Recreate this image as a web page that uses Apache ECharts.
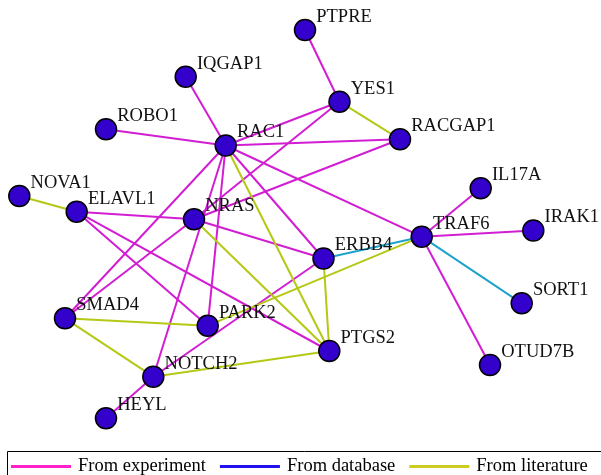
<!DOCTYPE html>
<html>
<head>
<meta charset="utf-8">
<script src="https://cdn.jsdelivr.net/npm/echarts@6/dist/echarts.min.js"></script>
<style>
  html, body { margin: 0; padding: 0; background: #fff; }
  #chart { width: 601px; height: 475px; }
</style>
</head>
<body>
<div id="chart"></div>
<script>
// Gene interaction network: node layout (x, y in layout units) and typed edges
const nodeNames = ['PTPRE', 'YES1', 'IQGAP1', 'ROBO1', 'RAC1', 'RACGAP1', 'NOVA1', 'ELAVL1',
  'NRAS', 'ERBB4', 'TRAF6', 'IL17A', 'IRAK1', 'SORT1', 'OTUD7B', 'SMAD4', 'PARK2', 'PTGS2',
  'NOTCH2', 'HEYL'];
const nodeX = [305, 339.5, 185.7, 106, 225.7, 400, 19.3, 76.7,
  194, 323.5, 421.7, 480.7, 533.3, 521.7, 490, 65, 207.7, 329.3,
  153.3, 106];
const nodeY = [30, 101.7, 76.7, 129.3, 145.5, 139.3, 196, 211.7,
  219.3, 258.5, 236.7, 188.3, 230.5, 303.3, 365, 318.3, 325.7, 351,
  376.7, 418.3];

const experimentLinks = [
  ['PTPRE', 'YES1'], ['IQGAP1', 'RAC1'], ['ROBO1', 'RAC1'], ['RAC1', 'YES1'],
  ['RAC1', 'RACGAP1'], ['RAC1', 'TRAF6'], ['RAC1', 'ERBB4'], ['RAC1', 'PARK2'],
  ['RAC1', 'SMAD4'], ['RAC1', 'NOTCH2'], ['NRAS', 'YES1'], ['NRAS', 'RACGAP1'],
  ['NRAS', 'ERBB4'], ['SMAD4', 'NRAS'], ['ELAVL1', 'NRAS'], ['ELAVL1', 'PARK2'],
  ['ELAVL1', 'PTGS2'], ['ERBB4', 'NOTCH2'], ['NOTCH2', 'HEYL'], ['TRAF6', 'IL17A'],
  ['TRAF6', 'IRAK1'], ['TRAF6', 'OTUD7B']
];
const databaseLinks = [['ERBB4', 'TRAF6'], ['TRAF6', 'SORT1']];
const literatureLinks = [
  ['NOVA1', 'ELAVL1'], ['YES1', 'RACGAP1'], ['RAC1', 'PTGS2'], ['NRAS', 'PTGS2'],
  ['ERBB4', 'PTGS2'], ['NOTCH2', 'PTGS2'], ['SMAD4', 'PARK2'], ['SMAD4', 'NOTCH2'],
  ['PARK2', 'TRAF6']
];

const legendNames = ['From experiment', 'From database', 'From literature'];
const legendColors = ['#ff22cc', '#2211ee', '#cccc22'];
const edgeColors = ['#d21ed2', '#1ea3cc', '#b4c814'];

const serif = '"Liberation Serif", "DejaVu Serif", serif';

function toLinks(pairs, color) {
  return pairs.map(([s, t]) => ({
    source: s, target: t,
    lineStyle: { color: color, width: 2, opacity: 1 }
  }));
}

const nodes = nodeNames.map((n, i) => ({ name: n, value: [nodeX[i], nodeY[i]] }));
const links = [].concat(
  toLinks(experimentLinks, edgeColors[0]),
  toLinks(databaseLinks, edgeColors[1]),
  toLinks(literatureLinks, edgeColors[2])
);

const chart = echarts.init(document.getElementById('chart'), null, { renderer: 'canvas' });

const legendSeries = legendNames.map((n, i) => ({
  name: n, type: 'line', data: [], color: legendColors[i],
  xAxisIndex: 0, yAxisIndex: 0
}));

chart.setOption({
  animation: false,
  backgroundColor: '#fff',
  grid: { left: 0, right: 0, top: 0, bottom: 0, containLabel: false },
  xAxis: { type: 'value', min: 0, max: 601, show: false },
  yAxis: { type: 'value', min: 0, max: 475, inverse: true, show: false },
  legend: {
    data: legendNames,
    left: 6, top: 452,
    icon: 'rect',
    itemWidth: 60, itemHeight: 3,
    itemGap: 14,
    selectedMode: false,
    textStyle: { fontFamily: serif, fontSize: 18.5, color: '#000', padding: [0, 0, 0, 2] }
  },
  graphic: [{
    type: 'rect',
    left: 5, top: 449,
    shape: { width: 620, height: 40 },
    style: { fill: 'none', stroke: '#000', lineWidth: 1 },
    silent: true
  }],
  series: [{
    type: 'graph',
    coordinateSystem: 'cartesian2d',
    layout: 'none',
    symbol: 'circle',
    symbolSize: 21,
    data: nodes,
    links: links,
    itemStyle: { color: '#3300cc', borderColor: '#000', borderWidth: 1.5 },
    label: {
      show: true,
      position: 'right',
      distance: 0,
      offset: [0, -13],
      formatter: '{b}',
      fontFamily: serif,
      fontSize: 18.5,
      color: '#111'
    },
    emphasis: { disabled: true },
    silent: true,
    z: 3
  }].concat(legendSeries)
});
</script>
</body>
</html>
